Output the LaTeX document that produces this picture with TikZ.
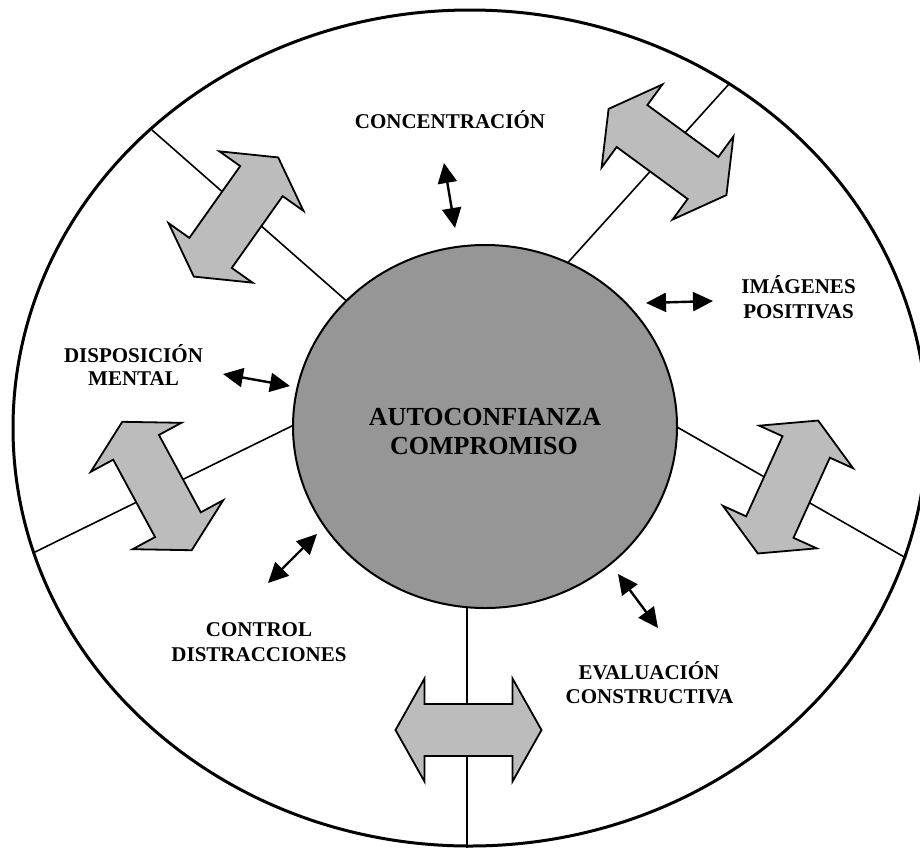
\documentclass[tikz,border=0pt]{standalone}
\usepackage{fontspec}
\setmainfont{Liberation Serif}
\usetikzlibrary{arrows.meta,shapes.geometric}
\definecolor{corefill}{RGB}{150,150,150}
\definecolor{arrowfill}{RGB}{188,188,188}
\begin{document}
\begin{tikzpicture}[x=1pt,y=-1pt,
  ring/.style={line width=3pt},
  divider/.style={line width=1.6pt},
  bigarrow/.style={draw=black,line width=1.8pt,fill=arrowfill,line join=miter},
  link/.style={line width=2.4pt,{Triangle[length=20pt,width=19pt]}-{Triangle[length=20pt,width=19pt]}},
  lbl/.style={font=\bfseries\fontsize{21}{24}\selectfont,anchor=base,inner sep=0pt},
  coretext/.style={font=\bfseries\fontsize{26}{30}\selectfont,anchor=base,inner sep=0pt},
  dblarrow/.pic={\draw[bigarrow] (73,0) -- (44,51.5) -- (44,26) -- (-44,26) -- (-44,51.5)
      -- (-73,0) -- (-44,-51.5) -- (-44,-26) -- (44,-26) -- (44,-51.5) -- cycle;}]
\useasboundingbox (0,0) rectangle (920,847);

% outer ring (its right edge runs past the page)
\node[ring,draw,ellipse,inner sep=0pt,minimum width=914pt,minimum height=836pt] (outer) at (470,428) {};

% dividers between the sectors
\coordinate (d1o) at (152,130);  \coordinate (d1i) at (350,304);
\coordinate (d2o) at (729,84);   \coordinate (d2i) at (563,268);
\coordinate (d3o) at (35,552);   \coordinate (d3i) at (300,422);
\coordinate (d4o) at (906,558);  \coordinate (d4i) at (670,423);
\coordinate (d5o) at (467,850);  \coordinate (d5i) at (467,600);
\foreach \k in {1,...,5} \draw[divider] (d\k o) -- (d\k i);

% central disc
\node[draw,line width=2pt,fill=corefill,ellipse,inner sep=0pt,minimum width=384pt,minimum height=363pt] (core) at (485,426.5) {};

% wide double arrows on the dividers
\pic[rotate=54.7]  (a1) at (236,217)   {dblarrow};
\pic[rotate=-36.2] (a2) at (667.5,152) {dblarrow};
\pic[rotate=118.4] (a3) at (157,486)   {dblarrow};
\pic[rotate=65.6]  (a4) at (788,487)   {dblarrow};
\pic               (a5) at (468.5,730) {dblarrow};

% small links between the disc and the labels
\coordinate (s1a) at (444,163); \coordinate (s1b) at (455,228);
\coordinate (s2a) at (646,303); \coordinate (s2b) at (713,301);
\coordinate (s3a) at (223,374); \coordinate (s3b) at (290,386);
\coordinate (s4a) at (317,534); \coordinate (s4b) at (268,583);
\coordinate (s5a) at (618,574); \coordinate (s5b) at (658,628);
\foreach \k in {1,...,5} \draw[link] (s\k a) -- (s\k b);

% labels
\node[lbl] (conc)  at (450,128.5) {CONCENTRACIÓN};
\node[lbl] (disp1) at (133.5,362) {DISPOSICIÓN};
\node[lbl] (disp2) at (133.5,385) {MENTAL};
\node[lbl] (img1)  at (798.5,293.5) {IMÁGENES};
\node[lbl] (img2)  at (798.5,318) {POSITIVAS};
\node[lbl] (ctl1)  at (259,636.5) {CONTROL};
\node[lbl] (ctl2)  at (259,661.5) {DISTRACCIONES};
\node[lbl] (eva1)  at (649,679) {EVALUACIÓN};
\node[lbl] (eva2)  at (649.5,703) {CONSTRUCTIVA};
\node[coretext] (t1) at (485,425) {AUTOCONFIANZA};
\node[coretext] (t2) at (484,454) {COMPROMISO};
\end{tikzpicture}
\end{document}
